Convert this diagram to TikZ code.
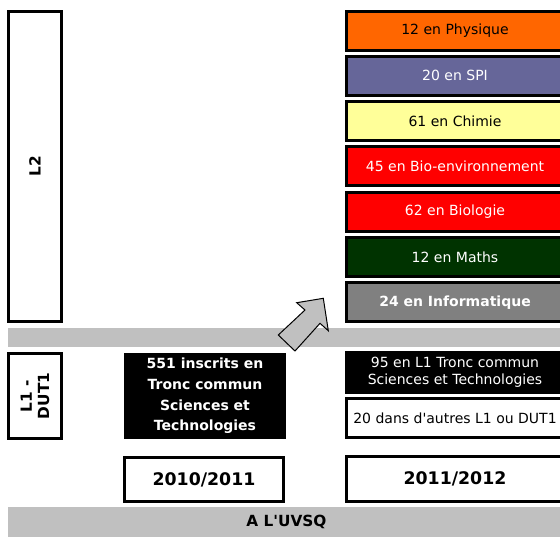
\documentclass[tikz,border=0pt]{standalone}
\usepackage{fontspec}
\setmainfont{DejaVu Sans}
\usetikzlibrary{calc}

\definecolor{physique}{HTML}{FF6600}
\definecolor{spi}{HTML}{666699}
\definecolor{chimie}{HTML}{FFFF99}
\definecolor{biologie}{HTML}{FF0000}
\definecolor{maths}{HTML}{003300}
\definecolor{informatique}{HTML}{808080}
\definecolor{barre}{HTML}{C0C0C0}

\begin{document}
\begin{tikzpicture}[x=0.75pt,y=-0.75pt]
                      \tikzstyle{box}=[rectangle,draw=black,line width=2.25pt,inner sep=0pt,align=center,font=\fontsize{10.5}{12.5}\selectfont]
                      \tikzstyle{filiere}=[box,minimum width=162.75pt,minimum height=29.25pt]
                      \tikzstyle{niveau}=[box,rotate=90,minimum height=39.75pt,font=\bfseries\fontsize{11.5}{13}\selectfont]
                      \tikzstyle{annee}=[box,fill=white,font=\bfseries\fontsize{13}{15}\selectfont]
                      \useasboundingbox (0,0) rectangle (560,537);
                      \clip (0,0) rectangle (560,537);
                      \fill[barre] (8,328) rectangle (565,347);
                      \node[niveau,minimum width=232.5pt] (lii) at (35,166.5) {L2};
                      \node[niveau,minimum width=63.75pt] (li) at (35,396) {L1 -\\DUT1};
                      \node[filiere,fill=physique] (phys) at (455,30.5) {12 en Physique};
                      \node[filiere,fill=spi,text=white] (spi) at (455,75.8) {20 en SPI};
                      \node[filiere,fill=chimie] (chim) at (455,121.1) {61 en Chimie};
                      \node[filiere,fill=biologie,text=white] (bioenv) at (455,166.4) {45 en Bio-environnement};
                      \node[filiere,fill=biologie,text=white] (bio) at (455,211.7) {62 en Biologie};
                      \node[filiere,fill=maths,text=white] (maths) at (455,257) {12 en Maths};
                      \node[filiere,fill=informatique,text=white,font=\bfseries\fontsize{10.5}{12.5}\selectfont] (info) at (455,302.3) {24 en Informatique};
                      \node[box,fill=black,text=white,minimum width=119.25pt,minimum height=62.25pt,font=\bfseries\fontsize{10.5}{15.5}\selectfont] (inscrits) at (205,396) {551 inscrits en\\Tronc commun\\Sciences et\\Technologies};
                      \node[filiere,fill=black,text=white,minimum height=30pt] (tronc) at (455,372.5) {95 en L1 Tronc commun\\Sciences et Technologies};
                      \node[filiere,fill=white] (autres) at (455,418) {20 dans d\textquotesingle autres L1 ou DUT1};
                      \node[annee,minimum width=119.25pt,minimum height=33pt] (anneeA) at (204,479.5) {2010/2011};
                      \node[annee,minimum width=162.75pt,minimum height=33.75pt] (anneeB) at (455,479) {2011/2012};
                      \node[fill=barre,inner sep=0pt,minimum width=417.75pt,minimum height=22.5pt,font=\bfseries\fontsize{11.5}{13}\selectfont] (uvsq) at (286.5,522) {A L\textquotesingle UVSQ};
                      \draw[fill=barre,line width=0.75pt,line join=miter] (278.3,335) -- (305,310) -- (296.7,302.7) -- (323.3,298.3) -- (328.3,330.7) -- (320,323.3) -- (295,351) -- cycle;
                  \end{tikzpicture}
\end{document}
